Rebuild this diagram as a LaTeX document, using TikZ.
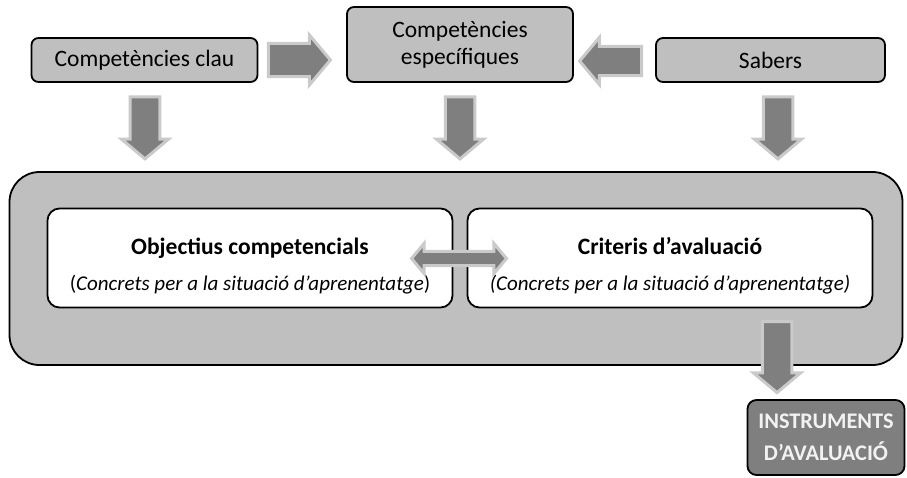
\documentclass[tikz,border=0pt]{standalone}
\usepackage{fontspec}
\setmainfont{Carlito}
\usetikzlibrary{shapes.arrows,positioning,calc}
\definecolor{boxgray}{HTML}{BFBFBF}
\definecolor{deepgray}{HTML}{7F7F7F}
\definecolor{rimgray}{HTML}{CACACA}
\definecolor{paletext}{HTML}{F2F2F2}
\tikzset{
  topbox/.style  ={rounded corners=7pt,draw=black,line width=1.8pt,fill=boxgray,
                   minimum width=226pt,minimum height=44pt,align=center,
                   font=\fontsize{23.5}{27}\selectfont},
  frame/.style   ={rounded corners=30pt,draw=black,line width=1.8pt,fill=boxgray},
  innerbox/.style={rounded corners=12pt,draw=black,line width=1.8pt,fill=white,
                   minimum width=405pt,minimum height=99pt,align=center,
                   font=\fontsize{23.5}{27}\selectfont},
  toolbox/.style ={rounded corners=9pt,draw=black,line width=1.8pt,fill=deepgray,
                   text=paletext,minimum width=157pt,minimum height=75pt,align=center,
                   font=\fontsize{22.3}{32}\selectfont\bfseries},
  blockarrow/.style={single arrow,single arrow tip angle=100,draw=rimgray,
                   fill=deepgray,line width=3pt,inner sep=0pt,text width=0pt,
                   text height=21pt,text depth=0pt,minimum height=62pt,
                   minimum width=47pt},
  twinarrow/.style={double arrow,double arrow tip angle=100,draw=rimgray,
                   fill=deepgray,line width=3pt,inner sep=0pt,text width=0pt,
                   text height=10pt,text depth=0pt,minimum height=95pt,
                   minimum width=30pt}
}
\newcommand\subline[1]{{\fontsize{21}{25}\selectfont #1}}
\begin{document}
\begin{tikzpicture}[x=1pt,y=-1pt]
  \useasboundingbox (0,0) rectangle (907,477);
  % --- outer frame ---
  \node[frame,minimum width=893pt,minimum height=193pt] (frame) at (456,268.5) {};
  % --- top row ---
  \node[topbox] (clau) at (144.5,60) {Competències clau};
  \node[topbox,minimum height=75pt] (espec) at (460,44.5)
    {Competències\\específiques};
  \node[topbox,minimum width=229pt] (sabers) at (770.5,60) {Sabers};
  % --- inner boxes (strut pushes the two lines a bit lower) ---
  \node[innerbox] (obj) at (250,258)
    {\rule{0pt}{32pt}\textbf{Objectius competencials}\\[9pt]
     \subline{(\textit{Concrets per a la situació d’aprenentatge})}};
  \node[innerbox] (crit) at (670,258)
    {\rule{0pt}{32pt}\textbf{Criteris d’avaluació}\\[9pt]
     \subline{\textit{(Concrets per a la situació d’aprenentatge)}}};
  \node[toolbox] (tools) at (826,437.5) {INSTRUMENTS\\D’AVALUACIÓ};
  % --- block arrows ---
  \node[blockarrow,anchor=tail,minimum width=50pt,text height=25pt]
    (clau-espec) at ([xshift=8.5pt]clau.east) {};
  \node[blockarrow,rotate=180,anchor=tail,text height=20pt]
    (sabers-espec) at ([xshift=-12pt,yshift=-1pt]sabers.west) {};
  \node[blockarrow,rotate=-90,anchor=tail] (clau-down)
    at ([xshift=0.5pt,yshift=-12.5pt]clau.south) {};
  \node[blockarrow,rotate=-90,anchor=tail] (espec-down)
    at ([yshift=-12.5pt]espec.south) {};
  \node[blockarrow,rotate=-90,anchor=tail] (sabers-down)
    at ([xshift=7.5pt,yshift=-12.5pt]sabers.south) {};
  \node[twinarrow] (obj-crit) at ($(obj.east)!0.5!(crit.west)+(-1,0.5)$) {};
  \node[blockarrow,rotate=-90,anchor=tip,minimum height=71pt] (frame-tools)
    at ([xshift=-49pt,yshift=4.5pt]tools.north) {};
\end{tikzpicture}
\end{document}
